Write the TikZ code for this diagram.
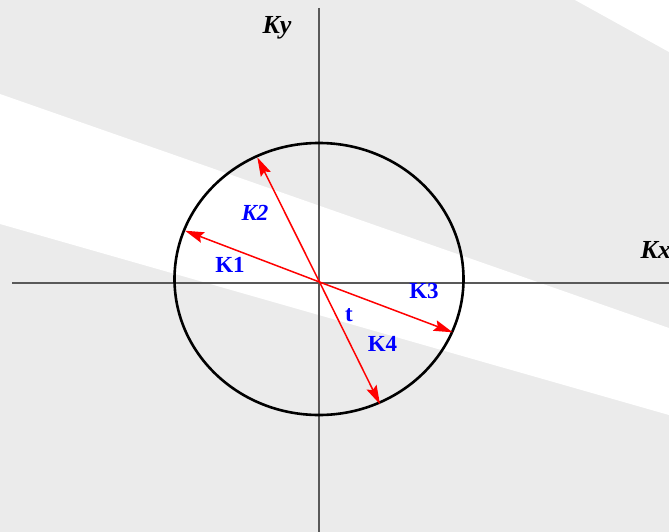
\documentclass[tikz,border=0pt]{standalone}
\usepackage{fontspec}
\setmainfont{Liberation Serif}
\usetikzlibrary{arrows.meta}
\begin{document}
\begin{tikzpicture}[x=1pt, y=-1pt,
        axis/.style={line width=1.2pt, black!65},
        vec/.style={line width=1.5pt, red, -{Stealth[length=19pt, width=11pt, inset=3pt]}},
        lab/.style={blue, font=\fontsize{23}{27}\selectfont\bfseries},
        axlab/.style={font=\fontsize{26}{30}\selectfont\bfseries\itshape}]
    \useasboundingbox (0,0) rectangle (669,532);
    \fill[black!8] (0,0) rectangle (669,532);
    \fill[white] (0,94) -- (669,328) -- (669,415) -- (0,224) -- cycle;
    \fill[white] (575,0) -- (669,0) -- (669,52) -- cycle;

    \coordinate (xl) at (12,283);
    \coordinate (xr) at (669,283);
    \coordinate (yt) at (319,8);
    \coordinate (yb) at (319,532);
    \draw[axis] (xl) -- (xr);
    \draw[axis] (yt) -- (yb);
    \node[axlab, anchor=west] (kx) at (637,250) {Kx};
    \node[axlab] (ky) at (277,27.5) {Ky};

    \draw[line width=2.6pt] (319,279) ellipse [x radius=144.5pt, y radius=136pt];

    \coordinate (O) at (319.5,282);
    \coordinate (k1) at (185,230.7);
    \coordinate (k2) at (257.3,157.3);
    \coordinate (k3) at (452.7,332.3);
    \coordinate (k4) at (380,404.3);
    \draw[vec] (O) -- (k1);
    \draw[vec] (O) -- (k2);
    \draw[vec] (O) -- (k3);
    \draw[vec] (O) -- (k4);

    \node[lab] (l1) at (230,265) {K1};
    \node[lab, font=\fontsize{23}{27}\selectfont\bfseries\itshape] (l2) at (255,212.5) {K2};
    \node[lab] (l3) at (424,290.7) {K3};
    \node[lab] (lt) at (349,315) {t};
    \node[lab] (l4) at (382.5,344) {K4};
\end{tikzpicture}
\end{document}
